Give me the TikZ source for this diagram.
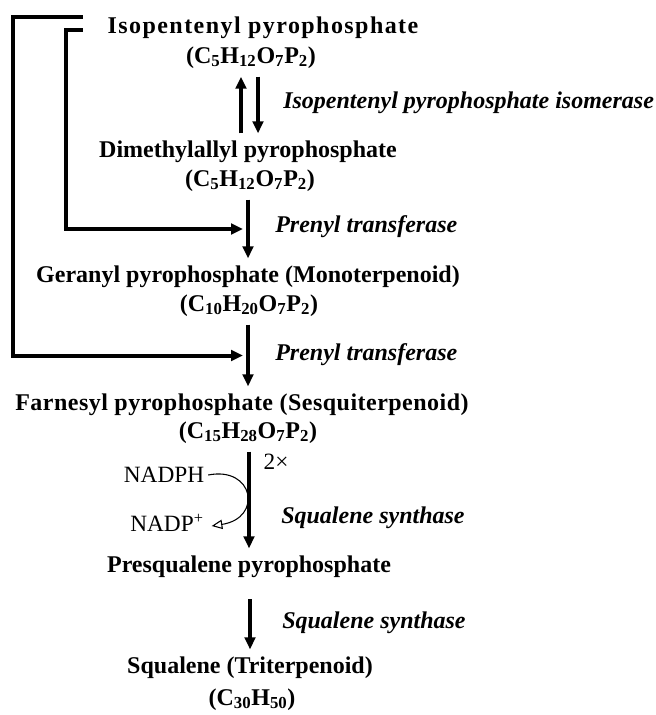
\documentclass[tikz,border=0pt]{standalone}
\usepackage{fontspec}
\setmainfont{Liberation Serif}
\usetikzlibrary{positioning,calc,arrows.meta}

\begin{document}
\begin{tikzpicture}[x=0.75pt,y=-0.75pt,
    cpd/.style={font=\bfseries\fontsize{18}{22}\selectfont, inner sep=0pt, outer sep=6pt, text height=12pt, text depth=4pt},
    enz/.style={font=\bfseries\itshape\fontsize{18}{22}\selectfont, anchor=west, inner sep=0pt},
    cof/.style={font=\fontsize{17.5}{20}\selectfont, inner sep=0pt, outer sep=3pt},
    rxn/.style={line width=2.4pt, -{Triangle[length=9pt,width=8pt]}},
    link/.style={line width=3pt, -{Triangle[length=9pt,width=8pt]}}]
    \useasboundingbox (0,0) rectangle (656,715);
    \node[cpd] (ipp) at (263,28) {\addfontfeature{LetterSpace=6}Isopentenyl pyrophosphate};
    \node[cpd] (ippf) at (251,58) {(C\textsubscript{5}H\textsubscript{12}O\textsubscript{7}P\textsubscript{2})};
    \node[cpd] (dmapp) at (248,152) {Dimethylallyl pyrophosphate};
    \node[cpd] (dmappf) at (250,181) {(C\textsubscript{5}H\textsubscript{12}O\textsubscript{7}P\textsubscript{2})};
    \node[cpd] (gpp) at (248,277) {Geranyl pyrophosphate (Monoterpenoid)};
    \node[cpd] (gppf) at (249,306) {(C\textsubscript{10}H\textsubscript{20}O\textsubscript{7}P\textsubscript{2})};
    \node[cpd] (fpp) at (242,405) {\addfontfeature{LetterSpace=2}Farnesyl pyrophosphate (Sesquiterpenoid)};
    \node[cpd] (fppf) at (248,433) {(C\textsubscript{15}H\textsubscript{28}O\textsubscript{7}P\textsubscript{2})};
    \node[cpd] (psp) at (249,567) {Presqualene pyrophosphate};
    \node[cpd] (sq) at (250,668) {Squalene (Triterpenoid)};
    \node[cpd] (sqf) at (252,700) {(C\textsubscript{30}H\textsubscript{50})};

    \node[enz] (iso) at (283,103) {Isopentenyl pyrophosphate isomerase};
    \node[enz] (pt1) at (275,227) {Prenyl transferase};
    \node[enz] (pt2) at (275,355) {Prenyl transferase};
    \node[enz] (ss1) at (281,518) {Squalene synthase};
    \node[enz] (ss2) at (282,623) {Squalene synthase};

    \node[cof] (nadph) at (164,475) {NADPH};
    \node[cof] (nadpp) at (167,523) {NADP\textsuperscript{+}};
    \node[cof] (two) at (276,462) {2×};

    \draw[rxn] ($(dmapp.north)+(-7,0)$) -- ($(dmapp.north |- ippf.south)+(-7,0)$);
    \draw[rxn] ($(dmapp.north |- ippf.south)+(10,0)$) -- ($(dmapp.north)+(10,0)$);
    \draw[rxn] (gpp.north |- dmappf.south) -- (gpp.north);
    \draw[rxn] (gpp.north |- gppf.south) -- (gpp.north |- fpp.north);
    \draw[rxn] (psp.north |- fppf.south) -- (psp.north);
    \draw[rxn, shorten <=10pt] (sq.north |- psp.south) -- (sq.north);

    \coordinate (m1) at ($(gpp.north |- dmappf.south)!0.5!(gpp.north)+(-5,0)$);
    \coordinate (m2) at ($(gpp.north |- gppf.south)!0.5!(gpp.north |- fpp.north)+(-5,0)$);
    \draw[link] ($(ipp.west)+(-17,2)$) -- ($(ipp.west)+(-34,2)$) |- (m1);
    \draw[link] ($(ipp.west)+(-17,-11)$) -- ($(ipp.west)+(-87,-11)$) |- (m2);

    \draw[line width=0.8pt, -{Triangle[open,length=8pt,width=7pt]}] (nadph.east) .. controls (254,466) and (263,518) .. ($(nadpp.east)+(4,3)$);
\end{tikzpicture}
\end{document}
